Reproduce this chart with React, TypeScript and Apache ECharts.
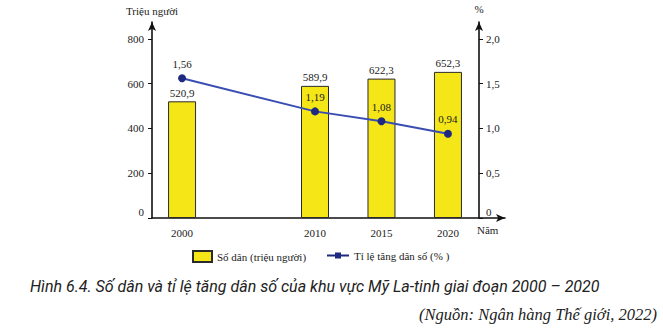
import React, { useEffect, useRef } from "react";
import * as echarts from "echarts";

const years = [2000, 2010, 2015, 2020];
const population = [520.9, 589.9, 622.3, 652.3];
const growth = [1.56, 1.19, 1.08, 0.94];
const leftTicks = [0, 200, 400, 600, 800];
const rightTicks = [0, 0.5, 1.0, 1.5, 2.0];
const popName = "Số dân (triệu người)";
const growthName = "Tỉ lệ tăng dân số (% )";
const caption = "Hình 6.4. Số dân và tỉ lệ tăng dân số của khu vực Mỹ La-tinh giai đoạn 2000 – 2020";
const source = "(Nguồn: Ngân hàng Thế giới, 2022)";

const SERIF = "'Liberation Serif', 'DejaVu Serif', serif";
const SANS = "Roboto, 'Noto Sans', sans-serif";

const zeroRich = { z: { padding: [0, 0, 12, 0], fontFamily: SERIF, fontSize: 11, color: "#222" } };

export default function App() {
  const ref = useRef<HTMLDivElement>(null);
  useEffect(() => {
    if (!ref.current) return;
    const chart = echarts.init(ref.current, undefined, { renderer: "svg" });
    const axisLine = { lineStyle: { color: "#111", width: 1.6 } };
    chart.setOption({
      animation: false,
      backgroundColor: "#fff",
      grid: { left: 152, right: 158, top: 22, bottom: 114 },
      xAxis: {
        type: "value",
        min: 1997.74,
        max: 2024.29,
        splitLine: { show: false },
        axisLine: { ...axisLine, symbol: ["none", "arrow"], symbolSize: [6, 9] },
        axisTick: { show: false },
        axisLabel: {
          customValues: years,
          formatter: (v: number) => String(v),
          fontFamily: SERIF,
          fontSize: 11,
          color: "#222",
          margin: 9,
        },
      },
      yAxis: [
        {
          type: "value",
          min: 0,
          max: 875,
          name: "Triệu người",
          nameLocation: "end",
          nameGap: 6,
          nameTextStyle: { fontFamily: SERIF, fontSize: 11, color: "#222" },
          splitLine: { show: false },
          axisLine: { show: true, ...axisLine, symbol: ["none", "arrow"], symbolSize: [6, 9] },
          axisTick: { show: true, customValues: leftTicks, length: 4, lineStyle: { color: "#111" } },
          axisLabel: {
            customValues: leftTicks,
            formatter: (v: number) => (v === 0 ? "{z|0}" : String(v)),
            rich: zeroRich,
            fontFamily: SERIF,
            fontSize: 11,
            color: "#222",
            margin: 8,
          },
        },
        {
          type: "value",
          min: 0,
          max: 2.1875,
          position: "right",
          offset: -26,
          name: "%",
          nameLocation: "end",
          nameGap: 8,
          nameTextStyle: { fontFamily: SERIF, fontSize: 11, color: "#222" },
          splitLine: { show: false },
          axisLine: { show: true, ...axisLine, symbol: ["none", "arrow"], symbolSize: [6, 9] },
          axisTick: { show: true, customValues: rightTicks, length: 4, lineStyle: { color: "#111" } },
          axisLabel: {
            customValues: rightTicks,
            formatter: (v: number) => (v === 0 ? "{z|0}" : v.toFixed(1).replace(".", ",")),
            rich: zeroRich,
            fontFamily: SERIF,
            fontSize: 11,
            color: "#222",
            margin: 7,
          },
        },
      ],
      legend: [
        {
          left: 187,
          top: 245,
          data: [{ name: popName, icon: "rect" }],
          itemWidth: 19,
          itemHeight: 11,
          itemGap: 6,
          textStyle: { fontFamily: SERIF, fontSize: 11, color: "#222" },
        },
        {
          left: 322,
          top: 245,
          data: [
            {
              name: growthName,
              icon: "path://M0,3.6L22,3.6L22,5.4L0,5.4Z M8,1.5L14,1.5L14,7.5L8,7.5Z",
            },
          ],
          itemWidth: 22,
          itemHeight: 9,
          itemGap: 6,
          textStyle: { fontFamily: SERIF, fontSize: 11, color: "#222" },
        },
      ],
      series: [
        {
          name: popName,
          type: "bar",
          barWidth: 28,
          data: years.map((y, i) => [y, population[i]]),
          itemStyle: { color: "#F4E617", borderColor: "#2a2a2a", borderWidth: 1 },
          label: {
            show: true,
            position: "top",
            distance: 3,
            formatter: (p: any) => p.value[1].toFixed(1).replace(".", ","),
            fontFamily: SERIF,
            fontSize: 11,
            color: "#222",
          },
        },
        {
          name: growthName,
          type: "line",
          yAxisIndex: 1,
          data: years.map((y, i) => [y, growth[i]]),
          symbol: "circle",
          symbolSize: 8,
          lineStyle: { color: "#3A4DB2", width: 2 },
          itemStyle: { color: "#1E2A80" },
          label: {
            show: true,
            position: "top",
            distance: 5,
            formatter: (p: any) => p.value[1].toFixed(2).replace(".", ","),
            fontFamily: SERIF,
            fontSize: 11,
            color: "#222",
          },
          z: 5,
        },
      ],
      graphic: [
        {
          type: "text",
          left: 477,
          top: 224,
          style: { text: "Năm", fontFamily: SERIF, fontSize: 11, fill: "#222" },
        },
        {
          type: "text",
          left: 30,
          top: 278,
          style: { text: caption, fontFamily: SANS, fontStyle: "italic", fontSize: 16, fill: "#222" },
        },
        {
          type: "text",
          right: 6,
          top: 306,
          style: { text: source, fontFamily: SERIF, fontStyle: "italic", fontSize: 16.5, fill: "#222" },
        },
      ],
    });
    return () => chart.dispose();
  }, []);
  return (
    <div
      ref={ref}
      style={{ position: "absolute", left: 0, top: 0, width: 663, height: 332 }}
    />
  );
}
